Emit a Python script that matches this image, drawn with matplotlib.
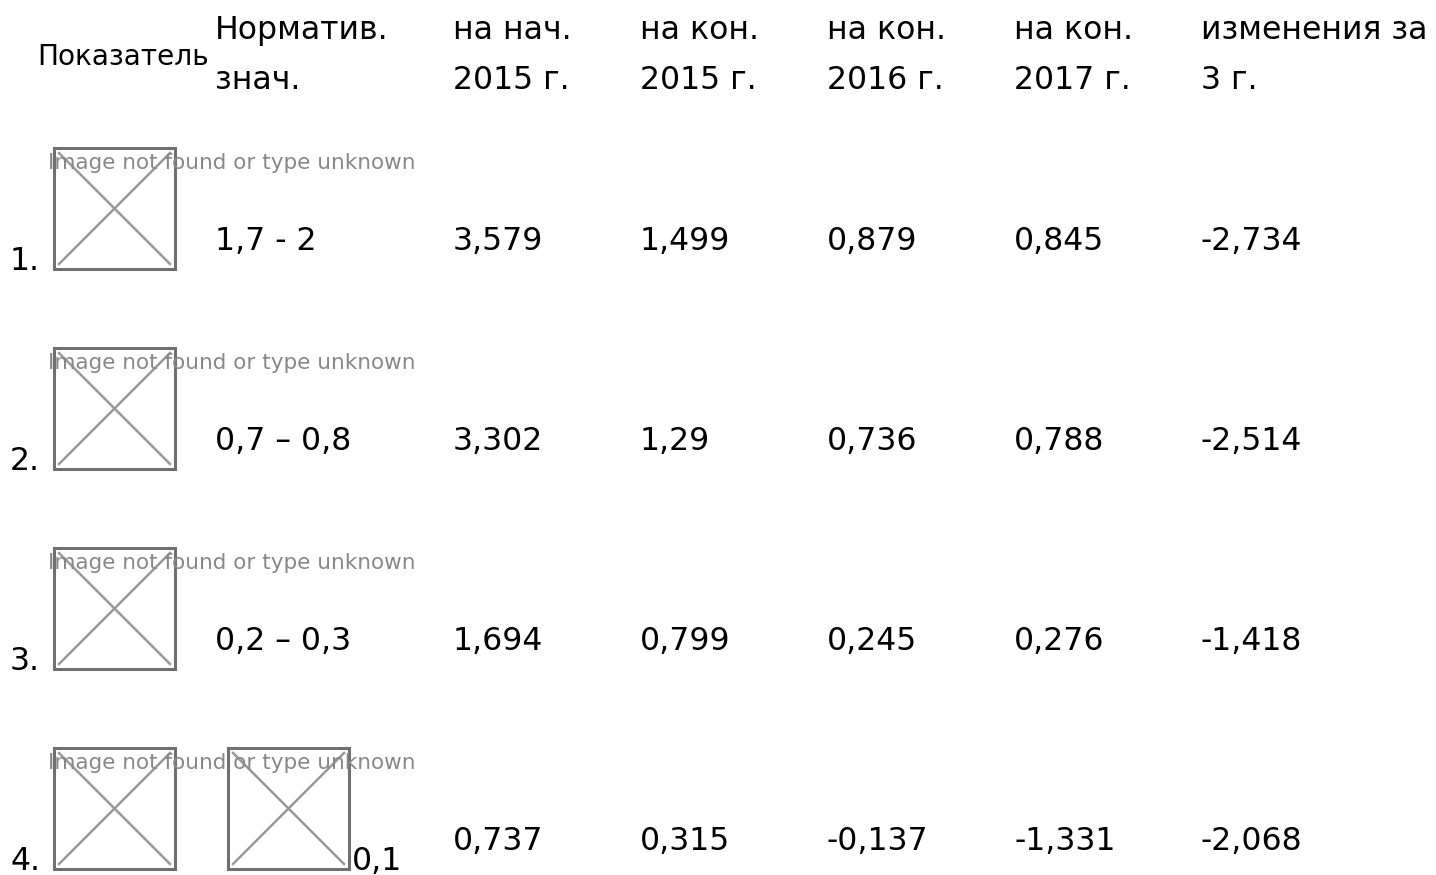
import matplotlib.pyplot as plt
from matplotlib.patches import Rectangle

plt.rcParams['font.family'] = ['DejaVu Sans']

# table contents
headers = [["Норматив.", "знач."], ["на нач.", "2015 г."], ["на кон.", "2015 г."],
           ["на кон.", "2016 г."], ["на кон.", "2017 г."], ["изменения за", "3 г."]]
row_labels = ["1.", "2.", "3.", "4."]
norms = ["1,7 - 2", "0,7 – 0,8", "0,2 – 0,3", "0,1"]
start_2015 = ["3,579", "3,302", "1,694", "0,737"]
end_2015 = ["1,499", "1,29", "0,799", "0,315"]
end_2016 = ["0,879", "0,736", "0,245", "-0,137"]
end_2017 = ["0,845", "0,788", "0,276", "-1,331"]
change_3y = ["-2,734", "-2,514", "-1,418", "-2,068"]
missing_text = "Image not found or type unknown"

fig = plt.figure(figsize=(14.36, 8.75), dpi=100)
ax = fig.add_axes([0, 0, 1, 1])
ax.set_xlim(0, 1436)
ax.set_ylim(875, 0)
ax.axis("off")

fs = 22.7
col_x = [215, 453, 640, 827, 1014, 1201]

ax.text(37, 65, "Показатель", fontsize=20.2, va="baseline", ha="left")
for x, (l1, l2) in zip(col_x, headers):
    ax.text(x, 39, l1, fontsize=fs, va="baseline", ha="left")
    ax.text(x, 89, l2, fontsize=fs, va="baseline", ha="left")


def broken_image(x0, y0, size=121):
    ax.add_patch(Rectangle((x0, y0), size, size, fill=False, ec="#707070", lw=2.2))
    ax.plot([x0 + 5, x0 + size - 5], [y0 + 5, y0 + size - 5], color="#999999", lw=1.8)
    ax.plot([x0 + 5, x0 + size - 5], [y0 + size - 5, y0 + 5], color="#999999", lw=1.8)


for i, lab in enumerate(row_labels):
    base = 250 + 200 * i
    top = 148 + 200 * i
    ax.text(10, top + 122, lab, fontsize=fs, va="baseline", ha="left")
    broken_image(54, top)
    if i == 3:
        broken_image(228, top)
        ax.text(352, top + 122, norms[i], fontsize=fs, va="baseline", ha="left")
    else:
        ax.text(col_x[0], base, norms[i], fontsize=fs, va="baseline", ha="left")
    ax.text(48, top + 15, missing_text, fontsize=15.5, color="#888888",
            va="center", ha="left")
    vals = [start_2015[i], end_2015[i], end_2016[i], end_2017[i], change_3y[i]]
    for x, v in zip(col_x[1:], vals):
        ax.text(x, base, v, fontsize=fs, va="baseline", ha="left")

fig.savefig("out.png", dpi=100)
